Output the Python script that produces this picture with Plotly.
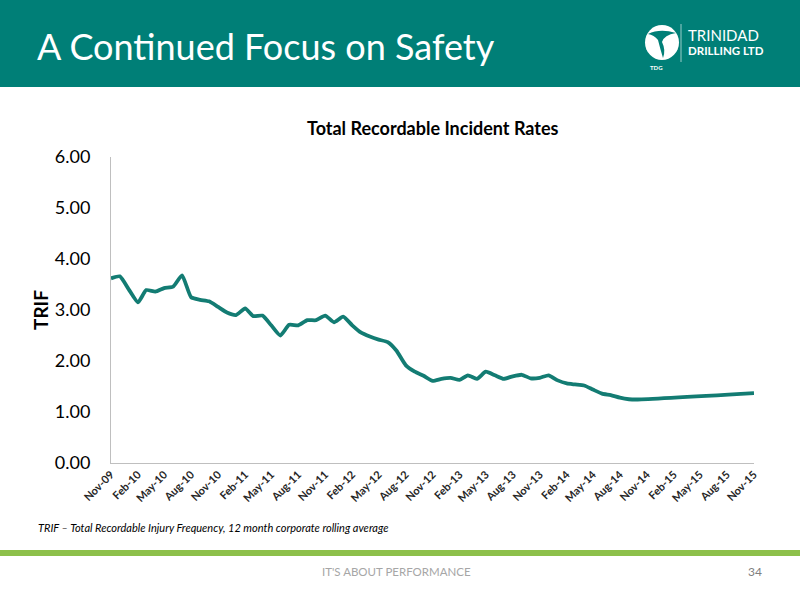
import plotly.graph_objects as go

months = ["2009-11", "2009-12", "2010-01", "2010-02", "2010-03", "2010-04", "2010-05", "2010-06",
          "2010-07", "2010-08", "2010-09", "2010-10", "2010-11", "2010-12", "2011-01", "2011-02",
          "2011-03", "2011-04", "2011-05", "2011-06", "2011-07", "2011-08", "2011-09", "2011-10",
          "2011-11", "2011-12", "2012-01", "2012-02", "2012-03", "2012-04", "2012-05", "2012-06",
          "2012-07", "2012-08", "2012-09", "2012-10", "2012-11", "2012-12", "2013-01", "2013-02",
          "2013-03", "2013-04", "2013-05", "2013-06", "2013-07", "2013-08", "2013-09", "2013-10",
          "2013-11", "2013-12", "2014-01", "2014-02", "2014-03", "2014-04", "2014-05", "2014-06",
          "2014-07", "2014-08", "2014-09", "2014-10", "2015-11"]

trif = [3.62, 3.66, 3.40, 3.15, 3.39, 3.36, 3.43, 3.46,
        3.68, 3.25, 3.20, 3.17, 3.06, 2.95, 2.90, 3.03,
        2.88, 2.89, 2.70, 2.50, 2.71, 2.70, 2.80, 2.80,
        2.89, 2.76, 2.87, 2.70, 2.56, 2.48, 2.42, 2.37,
        2.20, 1.92, 1.79, 1.71, 1.61, 1.65, 1.67, 1.63,
        1.72, 1.65, 1.79, 1.72, 1.65, 1.70, 1.73, 1.66,
        1.67, 1.72, 1.62, 1.56, 1.54, 1.52, 1.44, 1.36,
        1.33, 1.28, 1.25, 1.245, 1.37]

tick_vals = ["2009-11", "2010-02", "2010-05", "2010-08", "2010-11", "2011-02", "2011-05", "2011-08",
             "2011-11", "2012-02", "2012-05", "2012-08", "2012-11", "2013-02", "2013-05", "2013-08",
             "2013-11", "2014-02", "2014-05", "2014-08", "2014-11", "2015-02", "2015-05", "2015-08",
             "2015-11"]
tick_text = ["Nov-09", "Feb-10", "May-10", "Aug-10", "Nov-10", "Feb-11", "May-11", "Aug-11",
             "Nov-11", "Feb-12", "May-12", "Aug-12", "Nov-12", "Feb-13", "May-13", "Aug-13",
             "Nov-13", "Feb-14", "May-14", "Aug-14", "Nov-14", "Feb-15", "May-15", "Aug-15",
             "Nov-15"]
y_ticks = [0, 1, 2, 3, 4, 5, 6]

TEAL = "#007F77"
LINE = "#137C73"
FONT = "Lato"

W, H = 800, 600
def fx(px):
    return px / W
def fy(py):
    return 1 - py / H

fig = go.Figure()
fig.add_trace(go.Scatter(
    x=[m + "-01" for m in months], y=trif, mode="lines",
    line=dict(color=LINE, width=3.8, shape="spline", smoothing=0.5),
    connectgaps=True, hoverinfo="x+y", showlegend=False,
))

shapes = [
    dict(type="rect", xref="paper", yref="paper", x0=0, x1=1, y0=fy(87), y1=1,
         fillcolor=TEAL, line=dict(width=0), layer="below"),
    dict(type="rect", xref="paper", yref="paper", x0=0, x1=1, y0=fy(556), y1=fy(550),
         fillcolor="#8DC04B", line=dict(width=0), layer="below"),
    dict(type="circle", xref="paper", yref="paper", x0=fx(645), x1=fx(679), y0=fy(60), y1=fy(25),
         fillcolor="white", line=dict(width=0)),
    dict(type="path", xref="paper", yref="paper",
         path=(f"M {fx(648)} {fy(34)} Q {fx(660)} {fy(28)} {fx(676)} {fy(33)} "
               f"Q {fx(664)} {fy(35)} {fx(662)} {fy(42)} Q {fx(666)} {fy(50)} {fx(663)} {fy(58)} "
               f"Q {fx(660)} {fy(48)} {fx(658)} {fy(40)} Q {fx(654)} {fy(35)} {fx(648)} {fy(34)} Z"),
         fillcolor=TEAL, line=dict(width=0)),
    dict(type="line", xref="paper", yref="paper", x0=fx(681), x1=fx(681), y0=fy(62), y1=fy(24),
         line=dict(color="rgba(255,255,255,0.6)", width=1)),
]

annotations = [
    dict(text="A Continued Focus on Safety", x=fx(35), y=fy(46), xref="paper", yref="paper",
         xanchor="left", yanchor="middle", showarrow=False,
         font=dict(family=FONT, size=36, color="white")),
    dict(text="TRINIDAD", x=fx(686), y=fy(35), xref="paper", yref="paper",
         xanchor="left", yanchor="middle", showarrow=False,
         font=dict(family=FONT, size=15, color="white")),
    dict(text="<b>DRILLING LTD</b>", x=fx(686), y=fy(50), xref="paper", yref="paper",
         xanchor="left", yanchor="middle", showarrow=False,
         font=dict(family=FONT, size=11.5, color="white")),
    dict(text="<b>TDG</b>", x=fx(656), y=fy(67), xref="paper", yref="paper",
         xanchor="center", yanchor="middle", showarrow=False,
         font=dict(family=FONT, size=6, color="white")),
    dict(text="<b>Total Recordable Incident Rates</b>", x=fx(433), y=fy(128), xref="paper", yref="paper",
         xanchor="center", yanchor="middle", showarrow=False,
         font=dict(family=FONT, size=18, color="black")),
    dict(text="<b>TRIF</b>", x=fx(40), y=fy(310), xref="paper", yref="paper",
         xanchor="center", yanchor="middle", showarrow=False, textangle=-90,
         font=dict(family=FONT, size=19, color="black")),
    dict(text="<i>TRIF – Total Recordable Injury Frequency, 12 month corporate rolling average</i>",
         x=fx(36), y=fy(527), xref="paper", yref="paper",
         xanchor="left", yanchor="middle", showarrow=False,
         font=dict(family=FONT, size=11, color="black")),
    dict(text="IT'S ABOUT PERFORMANCE", x=fx(396), y=fy(571), xref="paper", yref="paper",
         xanchor="center", yanchor="middle", showarrow=False,
         font=dict(family=FONT, size=11.5, color="#A6A6A6")),
    dict(text="34", x=fx(764), y=fy(571), xref="paper", yref="paper",
         xanchor="right", yanchor="middle", showarrow=False,
         font=dict(family=FONT, size=12, color="#7F7F7F")),
]

fig.update_layout(
    width=W, height=H,
    margin=dict(l=0, r=0, t=0, b=0),
    paper_bgcolor="white", plot_bgcolor="white",
    shapes=shapes, annotations=annotations,
    xaxis=dict(
        domain=[fx(111), fx(754)], type="date",
        range=["2009-11-01", "2015-11-01"],
        tickmode="array", tickvals=[t + "-01" for t in tick_vals], ticktext=tick_text,
        tickangle=-45, tickfont=dict(family=FONT, size=11, color="#262626", weight="bold"),
        showgrid=False, zeroline=False, showline=True, linecolor="#BFBFBF", linewidth=1,
        ticks="", automargin=False, fixedrange=True,
    ),
    yaxis=dict(
        domain=[fy(463), fy(157)], range=[0, 6],
        tickmode="array", tickvals=y_ticks, ticktext=[f"{v:.2f}" for v in y_ticks],
        tickfont=dict(family=FONT, size=18, color="black"),
        ticklabelstandoff=16,
        showgrid=False, zeroline=False, showline=True, linecolor="#BFBFBF", linewidth=1,
        ticks="", ticklen=0, automargin=False, fixedrange=True,
    ),
)

fig.write_html("out.html", config={"displayModeBar": False},
               post_script="document.body.style.margin='0';document.body.style.overflow='hidden';")
